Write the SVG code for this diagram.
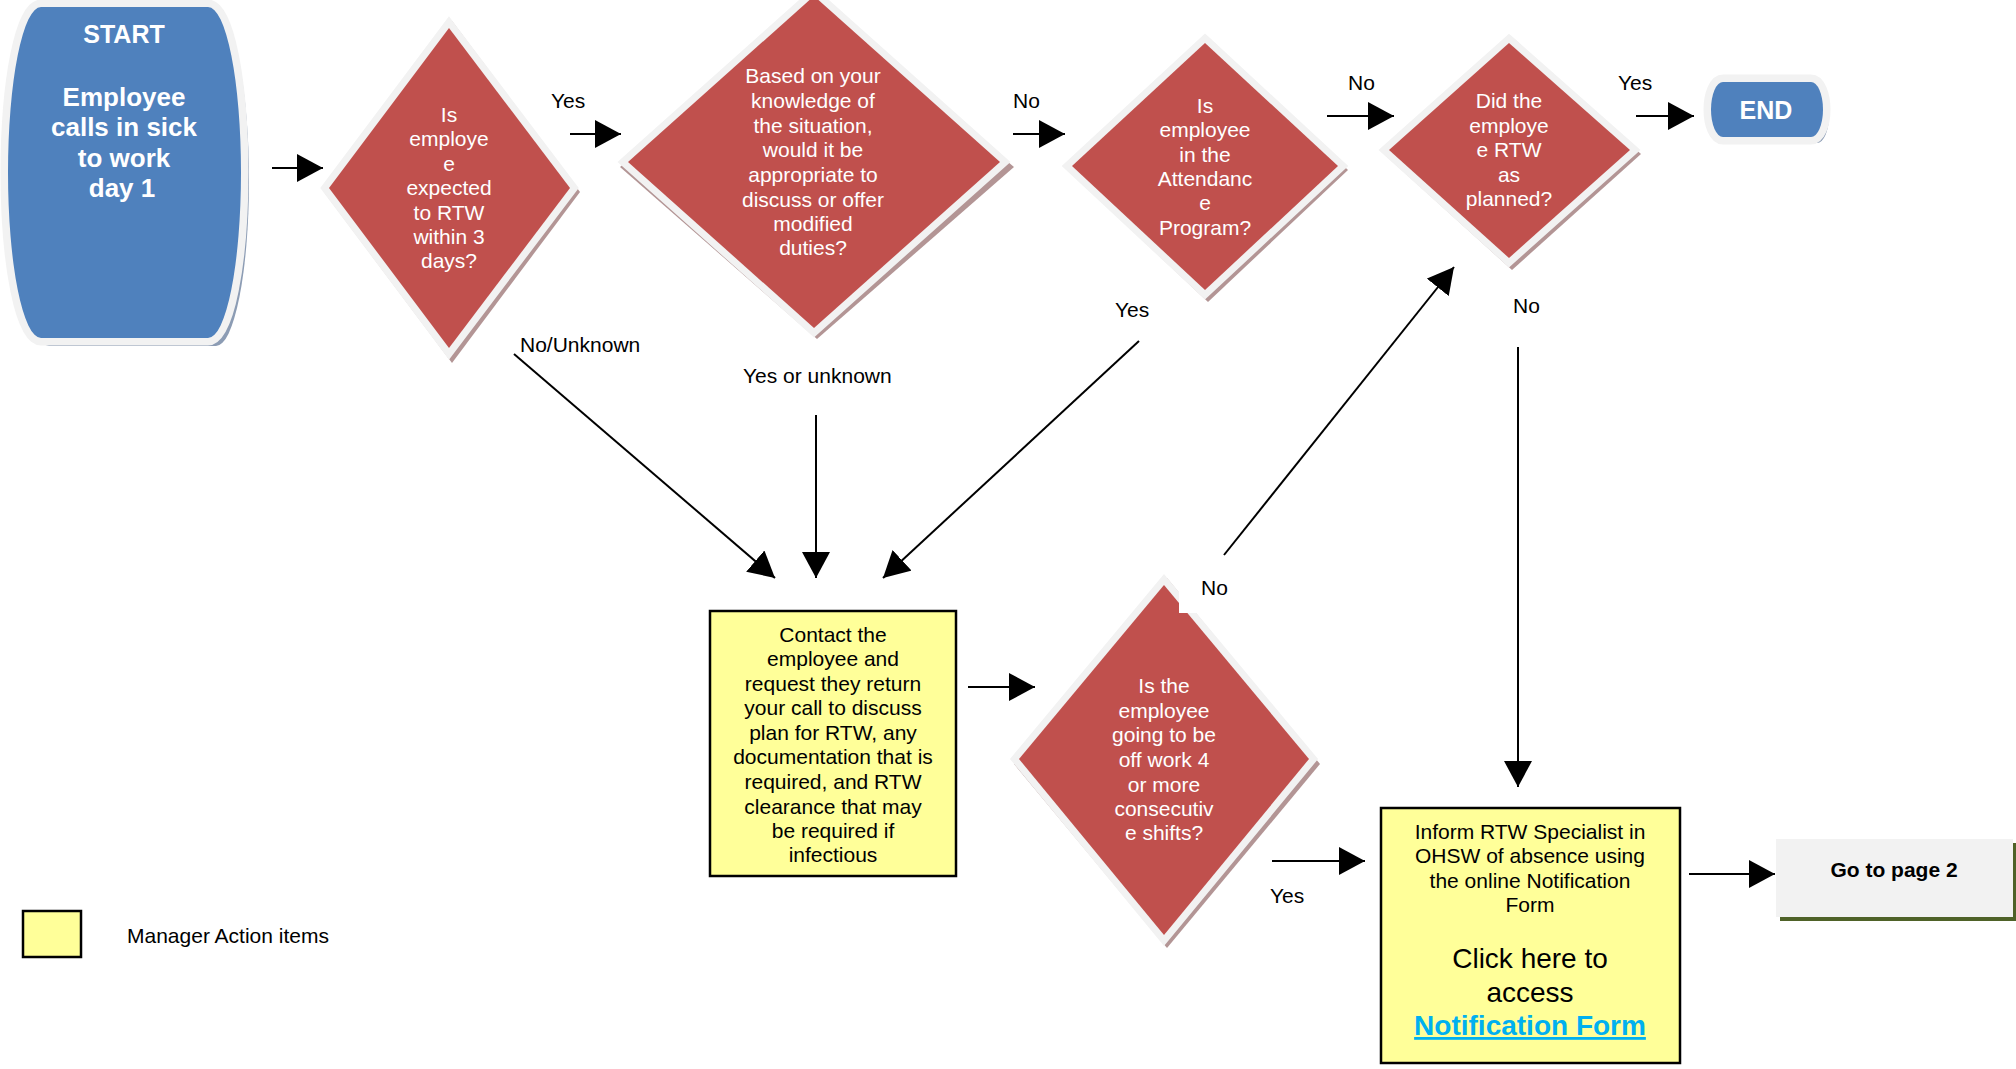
<svg xmlns="http://www.w3.org/2000/svg" width="2016" height="1069" viewBox="0 0 2016 1069">
<style>
text{font-family:"Liberation Sans",Arial,sans-serif}
.blue{fill:#4F81BD;stroke:#F2F2F2;stroke-width:15;paint-order:stroke;stroke-linejoin:miter}
.bshadow{fill:#8C9CB4}
.red{fill:#C0504D;stroke:#F2F2F2;stroke-width:14;paint-order:stroke;stroke-linejoin:miter}
.rshadow{fill:#B39595}
.ylw{fill:#FFFF99;stroke:#000;stroke-width:2.5}
.wt{fill:#fff;font-size:21px;text-anchor:middle}
.wb{fill:#fff;font-size:26px;font-weight:bold;text-anchor:middle}
.bt{fill:#000;font-size:21px;text-anchor:middle}
.big{font-size:28px}
.link{fill:#00B0F0;font-weight:bold;text-decoration:underline}
.lbl{fill:#000;font-size:21px}
.conn line{stroke:#000;stroke-width:2;marker-end:url(#ah)}
</style>
<defs>
<marker id="ah" viewBox="0 0 26 28" refX="26" refY="14" markerWidth="26" markerHeight="28" markerUnits="userSpaceOnUse" orient="auto">
<path d="M0,0 L26,14 L0,28 Z" fill="#000"/>
</marker>
</defs>
<rect width="2016" height="1069" fill="#fff"/>

<g id="start">
<path class="bshadow" d="M46,12 H213 A33,165.5 0 0 1 213,343 H46 A33,165.5 0 0 1 46,12 Z" transform="translate(3,3)"/>
<path class="blue" d="M41,7 H208 A33,165.5 0 0 1 208,338 H41 A33,165.5 0 0 1 41,7 Z"/>
<text class="wb" x="124" y="43" style="font-size:25px">START</text>
<text class="wb" x="124" y="106">Employee</text>
<text class="wb" x="124" y="136">calls in sick</text>
<text class="wb" x="124" y="167">to work</text>
<text class="wb" x="122" y="197">day 1</text>
</g>

<g id="d1">
<path class="rshadow" d="M452,21 L580,192 L452,363 L324,192 Z"/>
<path class="red" d="M449,28 L570,188 L449,348 L329,188 Z"/>
<text class="wt" x="449" y="122">Is</text>
<text class="wt" x="449" y="146">employe</text>
<text class="wt" x="449" y="171">e</text>
<text class="wt" x="449" y="195">expected</text>
<text class="wt" x="449" y="220">to RTW</text>
<text class="wt" x="449" y="244">within 3</text>
<text class="wt" x="449" y="268">days?</text>
</g>

<g id="d2">
<path class="rshadow" d="M817,1 L1014,167 L817,339 L620,167 Z"/>
<path class="red" d="M814,-4 L1000,162 L814,328 L628,162 Z"/>
<text class="wt" x="813" y="83">Based on your</text>
<text class="wt" x="813" y="108">knowledge of</text>
<text class="wt" x="813" y="133">the situation,</text>
<text class="wt" x="813" y="157">would it be</text>
<text class="wt" x="813" y="182">appropriate to</text>
<text class="wt" x="813" y="207">discuss or offer</text>
<text class="wt" x="813" y="231">modified</text>
<text class="wt" x="813" y="255">duties?</text>
</g>

<g id="d3">
<path class="rshadow" d="M1208,37 L1348,170 L1208,302 L1068,170 Z"/>
<path class="red" d="M1205,43 L1338,166 L1205,290 L1072,166 Z"/>
<text class="wt" x="1205" y="113">Is</text>
<text class="wt" x="1205" y="137">employee</text>
<text class="wt" x="1205" y="162">in the</text>
<text class="wt" x="1205" y="186">Attendanc</text>
<text class="wt" x="1205" y="210">e</text>
<text class="wt" x="1205" y="235">Program?</text>
</g>

<g id="d4">
<path class="rshadow" d="M1512,37 L1641,154 L1512,270 L1384,154 Z"/>
<path class="red" d="M1509,43 L1630,150 L1509,258 L1389,150 Z"/>
<text class="wt" x="1509" y="108">Did the</text>
<text class="wt" x="1509" y="133">employe</text>
<text class="wt" x="1509" y="157">e RTW</text>
<text class="wt" x="1509" y="182">as</text>
<text class="wt" x="1509" y="206">planned?</text>
</g>

<g id="end">
<path class="bshadow" d="M1728,87 H1815 A12,27.5 0 0 1 1815,142 H1728 A12,27.5 0 0 1 1728,87 Z" transform="translate(2,1)"/>
<path class="blue" d="M1723,82 H1811 A12,27.5 0 0 1 1811,137 H1723 A12,27.5 0 0 1 1723,82 Z"/>
<text class="wb" x="1766" y="119" style="font-size:25px">END</text>
</g>

<g id="contact">
<rect class="ylw" x="710" y="611" width="246" height="265"/>
<text class="bt" x="833" y="642">Contact the</text>
<text class="bt" x="833" y="666">employee and</text>
<text class="bt" x="833" y="691">request they return</text>
<text class="bt" x="833" y="715">your call to discuss</text>
<text class="bt" x="833" y="740">plan for RTW, any</text>
<text class="bt" x="833" y="764">documentation that is</text>
<text class="bt" x="833" y="789">required, and RTW</text>
<text class="bt" x="833" y="814">clearance that may</text>
<text class="bt" x="833" y="838">be required if</text>
<text class="bt" x="833" y="862">infectious</text>
</g>

<g id="d5">
<path class="rshadow" d="M1167,578 L1320,764 L1167,948 L1014,764 Z"/>
<path class="red" d="M1164,585 L1309,759 L1164,935 L1019,759 Z"/>
<text class="wt" x="1164" y="693">Is the</text>
<text class="wt" x="1164" y="718">employee</text>
<text class="wt" x="1164" y="742">going to be</text>
<text class="wt" x="1164" y="767">off work 4</text>
<text class="wt" x="1164" y="792">or more</text>
<text class="wt" x="1164" y="816">consecutiv</text>
<text class="wt" x="1164" y="840">e shifts?</text>
</g>

<g id="inform">
<rect class="ylw" x="1381" y="808" width="299" height="255"/>
<text class="bt" x="1530" y="839">Inform RTW Specialist in</text>
<text class="bt" x="1530" y="863">OHSW of absence using</text>
<text class="bt" x="1530" y="888">the online Notification</text>
<text class="bt" x="1530" y="912">Form</text>
<text class="bt big" x="1530" y="968">Click here to</text>
<text class="bt big" x="1530" y="1002">access</text>
<text class="bt big link" x="1530" y="1035">Notification Form</text>
</g>

<g id="page2">
<rect x="1780" y="843" width="236" height="78" fill="#4F6228"/>
<rect x="1776" y="839" width="237" height="78" fill="#F2F2F2"/>
<text class="bt" x="1894" y="877" style="font-weight:bold">Go to page 2</text>
</g>

<g id="legend">
<rect class="ylw" x="23" y="911" width="58" height="46"/>
<text class="lbl" x="127" y="943">Manager Action items</text>
</g>

<g class="conn" id="connectors">
<line x1="272" y1="168" x2="323" y2="168"/>
<line x1="570" y1="134" x2="621" y2="134"/>
<line x1="1013" y1="134" x2="1065" y2="134"/>
<line x1="1327" y1="116" x2="1394" y2="116"/>
<line x1="1636" y1="116" x2="1694" y2="116"/>
<line x1="514" y1="354" x2="775" y2="578"/>
<line x1="816" y1="415" x2="816" y2="578"/>
<line x1="1139" y1="341" x2="883" y2="578"/>
<line x1="968" y1="687" x2="1035" y2="687"/>
<line x1="1224" y1="555" x2="1454" y2="267"/>
<line x1="1272" y1="861" x2="1365" y2="861"/>
<line x1="1518" y1="347" x2="1518" y2="787"/>
<line x1="1689" y1="874" x2="1775" y2="874"/>
</g>

<g id="labels">
<rect x="1179" y="570" width="60" height="43" fill="#fff"/>
<text class="lbl" x="551" y="108">Yes</text>
<text class="lbl" x="1013" y="108">No</text>
<text class="lbl" x="1348" y="90">No</text>
<text class="lbl" x="1618" y="90">Yes</text>
<text class="lbl" x="520" y="352">No/Unknown</text>
<text class="lbl" x="743" y="383">Yes or unknown</text>
<text class="lbl" x="1115" y="317">Yes</text>
<text class="lbl" x="1513" y="313">No</text>
<text class="lbl" x="1201" y="595">No</text>
<text class="lbl" x="1270" y="903">Yes</text>
</g>
</svg>
